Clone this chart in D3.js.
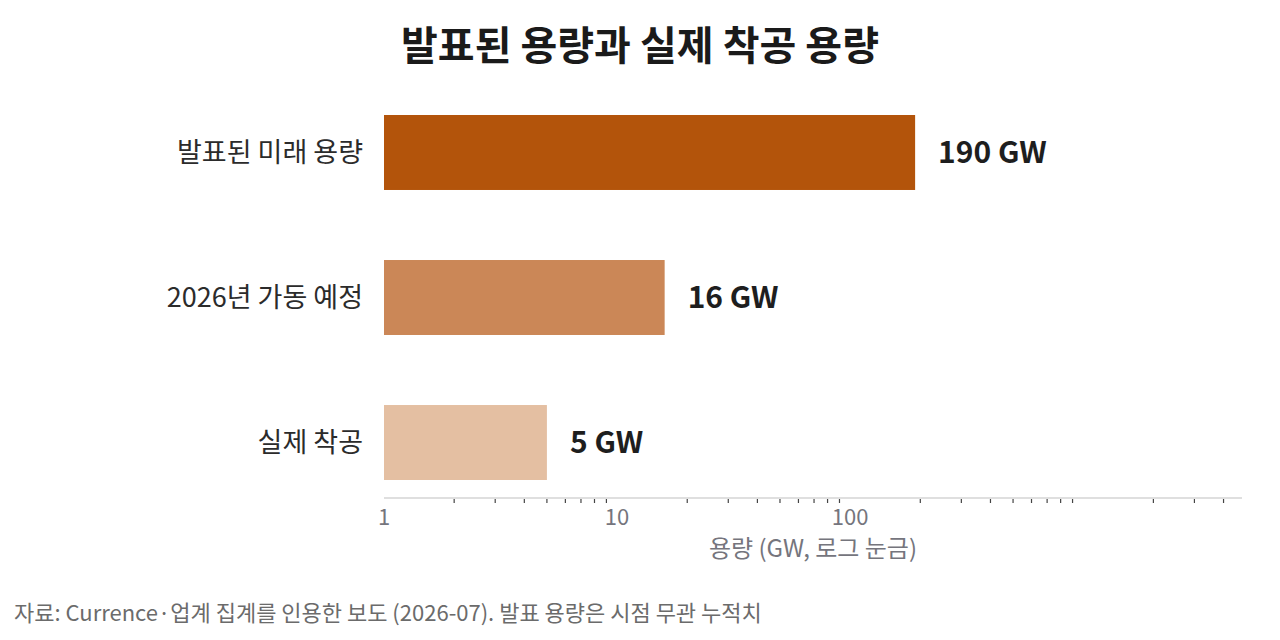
<!DOCTYPE html>
<html>
<head>
<meta charset="utf-8">
<script src="https://cdn.jsdelivr.net/npm/d3@7"></script>
<style>
  body { margin: 0; background: #fff; }
  svg { font-family: "Noto Sans CJK KR", "Noto Sans", sans-serif; }
</style>
</head>
<body>
<svg id="chart" width="1280" height="640"></svg>
<script>
// data
var categories = ["발표된 미래 용량", "2026년 가동 예정", "실제 착공"]
var values = [190, 16, 5]
var valueLabels = ["190 GW", "16 GW", "5 GW"]
var barColors = ["#b3540b", "#cb8757", "#e4bfa2"]
var tickLabels = [1, 10, 100]

var svg = d3.select("#chart")

var xScale = d3.scaleLog().domain([1, 4800]).range([384, 1242])
var yScale = d3.scaleBand().domain(categories).range([42.5, 552.5]).paddingInner(0.483).paddingOuter(0.5)

// title
svg.append("text")
    .attr("x", 640)
    .attr("y", 60)
    .attr("text-anchor", "middle")
    .style("font-size", "40px")
    .style("font-weight", "700")
    .style("fill", "#1a1a1a")
    .text("발표된 용량과 실제 착공 용량")

var rows = categories.map((c, i) => ({ name: c, value: values[i], label: valueLabels[i], color: barColors[i] }))

svg.selectAll(".bar")
    .data(rows)
    .enter()
    .append("rect")
    .classed("bar", true)
    .attr("x", xScale(1))
    .attr("y", d => yScale(d.name))
    .attr("width", d => xScale(d.value) - xScale(1))
    .attr("height", yScale.bandwidth())
    .style("fill", d => d.color)

// value labels at bar ends
svg.selectAll(".value")
    .data(rows)
    .enter()
    .append("text")
    .classed("value", true)
    .attr("x", d => xScale(d.value) + 23)
    .attr("y", d => yScale(d.name) + yScale.bandwidth() / 2)
    .attr("dy", "0.35em")
    .style("font-size", "30px")
    .style("font-weight", "700")
    .style("fill", "#1e1e1e")
    .text(d => d.label)

// category labels
svg.selectAll(".cat")
    .data(rows)
    .enter()
    .append("text")
    .classed("cat", true)
    .attr("x", 363)
    .attr("y", d => yScale(d.name) + yScale.bandwidth() / 2)
    .attr("dy", "0.35em")
    .attr("text-anchor", "end")
    .style("font-size", "27px")
    .style("fill", "#2b2b2b")
    .text(d => d.name)

// x axis: minor ticks only as marks, labels at powers of ten
var minorTicks = xScale.ticks().filter(v => Math.log10(v) % 1 !== 0)
var axis = svg.append("g").attr("transform", "translate(0,498)")

axis.append("line")
    .attr("x1", xScale.range()[0])
    .attr("x2", xScale.range()[1])
    .style("stroke", "#d4d4d4")
    .style("stroke-width", 1.5)

axis.selectAll(".minor")
    .data(minorTicks)
    .enter()
    .append("line")
    .classed("minor", true)
    .attr("x1", d => xScale(d))
    .attr("x2", d => xScale(d))
    .attr("y1", 1)
    .attr("y2", 5)
    .style("stroke", "#444")
    .style("stroke-width", 1.2)

axis.selectAll(".tl")
    .data(tickLabels)
    .enter()
    .append("text")
    .classed("tl", true)
    .attr("x", d => xScale(d))
    .attr("y", 27)
    .attr("text-anchor", "middle")
    .style("font-size", "22px")
    .style("fill", "#75757d")
    .text(d => d)

svg.append("text")
    .attr("x", (xScale.range()[0] + xScale.range()[1]) / 2)
    .attr("y", 557)
    .attr("text-anchor", "middle")
    .style("font-size", "24px")
    .style("fill", "#75757d")
    .text("용량 (GW, 로그 눈금)")

// source note
svg.append("text")
    .attr("x", 14)
    .attr("y", 621)
    .style("font-size", "22px")
    .style("fill", "#6b6b6b")
    .text("자료: Currence·업계 집계를 인용한 보도 (2026-07). 발표 용량은 시점 무관 누적치")
</script>
</body>
</html>
